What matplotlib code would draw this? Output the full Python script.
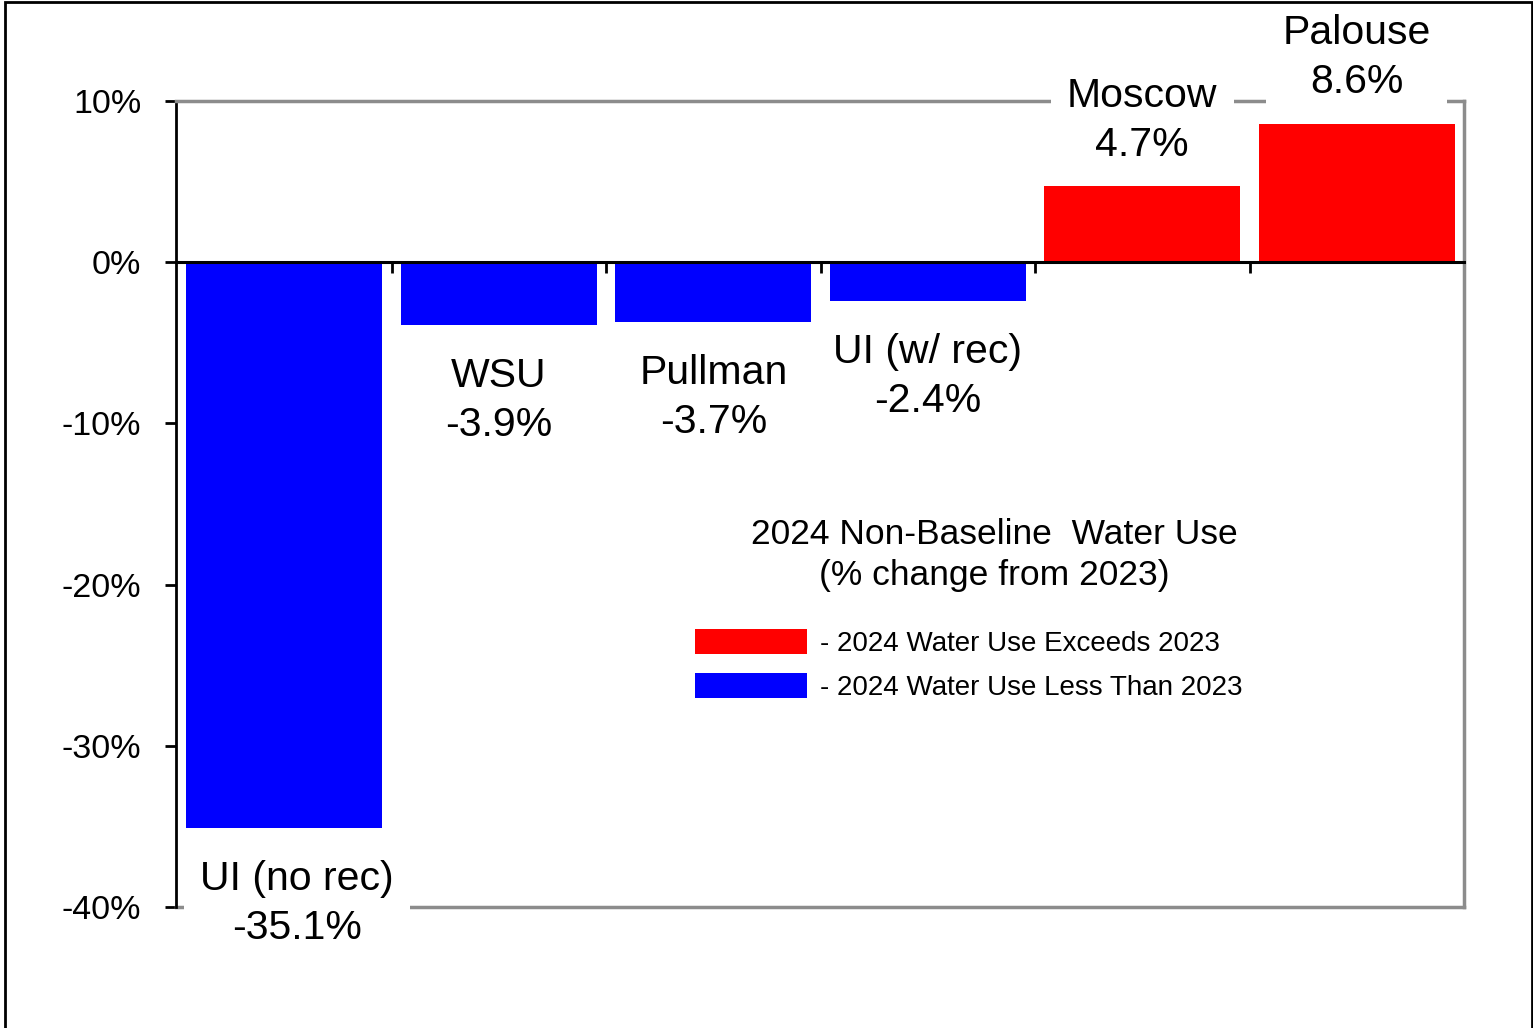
import numpy as np
import matplotlib.pyplot as plt
from matplotlib.patches import Rectangle

plt.rc('font', family=['Liberation Sans', 'DejaVu Sans'], size=24)

# data
sites = ['UI (no rec)', 'WSU', 'Pullman', 'UI (w/ rec)', 'Moscow', 'Palouse']
change = [-35.1, -3.9, -3.7, -2.4, 4.7, 8.6]
yticks = [10, 0, -10, -20, -30, -40]
title_lines = ['2024 Non-Baseline  Water Use', '(% change from 2023)']
legend_items = ['- 2024 Water Use Exceeds 2023', '- 2024 Water Use Less Than 2023']

red, blue, grey = '#ff0000', '#0000ff', '#8c8c8c'

W, H = 1533, 1028
fig = plt.figure(figsize=(W / 100, H / 100), dpi=100)
ax = fig.add_axes([176 / W, 1 - 907 / H, (1464 - 176) / W, (907 - 101) / H])

x = np.arange(len(sites))
cols = [red if v > 0 else blue for v in change]
ax.bar(x, change, width=0.915, color=cols, linewidth=0, zorder=1)

ax.set_xlim(-0.505, len(sites) - 0.5)
ax.set_ylim(-40, 10)

# frame: black left + zero line, grey elsewhere
ax.spines['left'].set_color('black')
ax.spines['left'].set_linewidth(2)
ax.spines['bottom'].set_position(('data', 0))
ax.spines['bottom'].set_color('black')
ax.spines['bottom'].set_linewidth(2.2)
for s in ['top', 'right']:
    ax.spines[s].set_color(grey)
    ax.spines[s].set_linewidth(2.5)
ax.axhline(-40, color=grey, lw=2.5, clip_on=False, zorder=2.5)

ax.set_xticks(x + 0.5)
ax.set_xticklabels([])
ax.tick_params(axis='x', direction='out', length=8, width=2, color='black')
ax.set_yticks(yticks)
ax.set_yticklabels([f'{t}%' for t in yticks])
ax.tick_params(axis='y', direction='out', length=8, width=2, pad=17,
               labelsize=24.5)

# bar labels
for i, (name, v) in enumerate(zip(sites, change)):
    dx = 9 if i == 0 else 0
    if v < 0:
        xy_off, va = (dx, -23), 'top'
    else:
        xy_off, va = (dx, 16), 'bottom'
    ax.annotate(f'{name}\n{v:.1f}%', (i, v), xytext=xy_off,
                textcoords='offset points', ha='center', va=va, fontsize=29.5,
                linespacing=1.37, zorder=3,
                bbox=dict(boxstyle='square,pad=0.4', fc='white', ec='none'))

# legend block
fig.text(994 / W, 1 - 534 / H, title_lines[0], ha='center', va='center',
         fontsize=25.5)
fig.text(994 / W, 1 - 575 / H, title_lines[1], ha='center', va='center',
         fontsize=25.5)
for j, (lab, c) in enumerate(zip(legend_items, [red, blue])):
    yc = 641 + j * 44
    fig.patches.append(Rectangle((695 / W, 1 - (yc + 12.5) / H), 112 / W,
                                 25 / H, transform=fig.transFigure,
                                 color=c, lw=0))
    fig.text(820 / W, 1 - (yc + 3) / H, lab, ha='left', va='center',
             fontsize=20)

# outer border
fig.patches.append(Rectangle((5 / W, -0.02), 1527 / W, 1.02 - 1.5 / H,
                             transform=fig.transFigure, fill=False,
                             ec='black', lw=2))

fig.savefig('out.png', dpi=100)
